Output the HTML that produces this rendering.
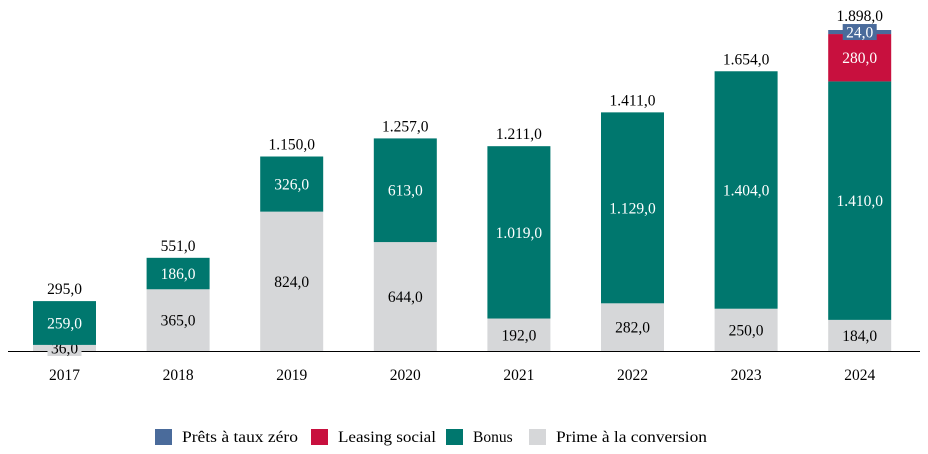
<!DOCTYPE html>
<html><head><meta charset="utf-8"><style>
body{margin:0;background:#fff;}
svg{display:block;font-family:"Liberation Serif",serif;}
</style></head><body>
<svg id="chart" width="928" height="454"></svg>
<script>
const years=["2017","2018","2019","2020","2021","2022","2023","2024"];
const prime=[36,365,824,644,192,282,250,184];
const bonus=[259,186,326,613,1019,1129,1404,1410];
const leasing=[0,0,0,0,0,0,0,280];
const prets=[0,0,0,0,0,0,0,24];
const totals=["295,0","551,0","1.150,0","1.257,0","1.211,0","1.411,0","1.654,0","1.898,0"];
const seriesNames=["Prêts à taux zéro","Leasing social","Bonus","Prime à la conversion"];
const NS="http://www.w3.org/2000/svg";
const svg=document.getElementById("chart");
const base=351, k=(351-30)/1898, x0=64.5, step=113.6, bw=63;
const yv=v=>base-v*k;
const xc=i=>x0+i*step;
function fmt(v){let s=String(v);if(v>=1000)s=s.slice(0,s.length-3)+"."+s.slice(-3);return s+",0";}
function el(t,a){const e=document.createElementNS(NS,t);for(const q in a)e.setAttribute(q,a[q]);svg.appendChild(e);return e;}
const series=[{d:prime,c:"#d6d7d9",tc:"#000",n:"prime"},{d:bonus,c:"#00776e",tc:"#fff",n:"bonus"},{d:leasing,c:"#c8103e",tc:"#fff",n:"leasing"},{d:prets,c:"#4a6b9b",tc:"#fff",n:"prets"}];
const FS="15.5";
const ax=el("line",{x1:8,x2:920,y1:351.5,y2:351.5,stroke:"#000","stroke-width":1});


years.forEach((yr,i)=>{
  let cum=0;
  series.forEach(s=>{
    const v=s.d[i]; if(!v)return;
    const r=el("rect",{x:xc(i)-bw/2,y:yv(cum+v),width:bw,height:v*k,fill:s.c});
    
    
    let mid=yv(cum+v/2);
    if(v*k<20){
      mid=Math.min(mid,base-2);
      const b=el("rect",{x:xc(i)-17,y:mid-8,width:34,height:16,fill:s.c});
      
      
    }
    const t=el("text",{x:xc(i),y:mid+5.5,"text-anchor":"middle","font-size":FS,fill:s.tc});
    t.textContent=fmt(v);
    
    
    cum+=v;
  });
  const tt=el("text",{x:xc(i),y:yv(cum)-(i==7?9:7),"text-anchor":"middle","font-size":FS,fill:"#000"});
  tt.textContent=totals[i];
  
  
  const xl=el("text",{x:xc(i),y:380,"text-anchor":"middle","font-size":FS,fill:"#000"});
  xl.textContent=yr;
  
  
});
const legCols=["#4a6b9b","#c8103e","#00776e","#d6d7d9"];
const legX=[155,311,446,529];
const legW=[116,98,0,151];
seriesNames.forEach((n,i)=>{
  const r=el("rect",{x:legX[i],y:429,width:17,height:16,fill:legCols[i]});
  
  
  const a={x:legX[i]+27,y:442,"font-size":"15.5",fill:"#000"};
  if(legW[i]){a.textLength=legW[i];a.lengthAdjust="spacingAndGlyphs";}
  const t=el("text",a);
  t.textContent=n;
  
  
});
</script>
</body></html>
